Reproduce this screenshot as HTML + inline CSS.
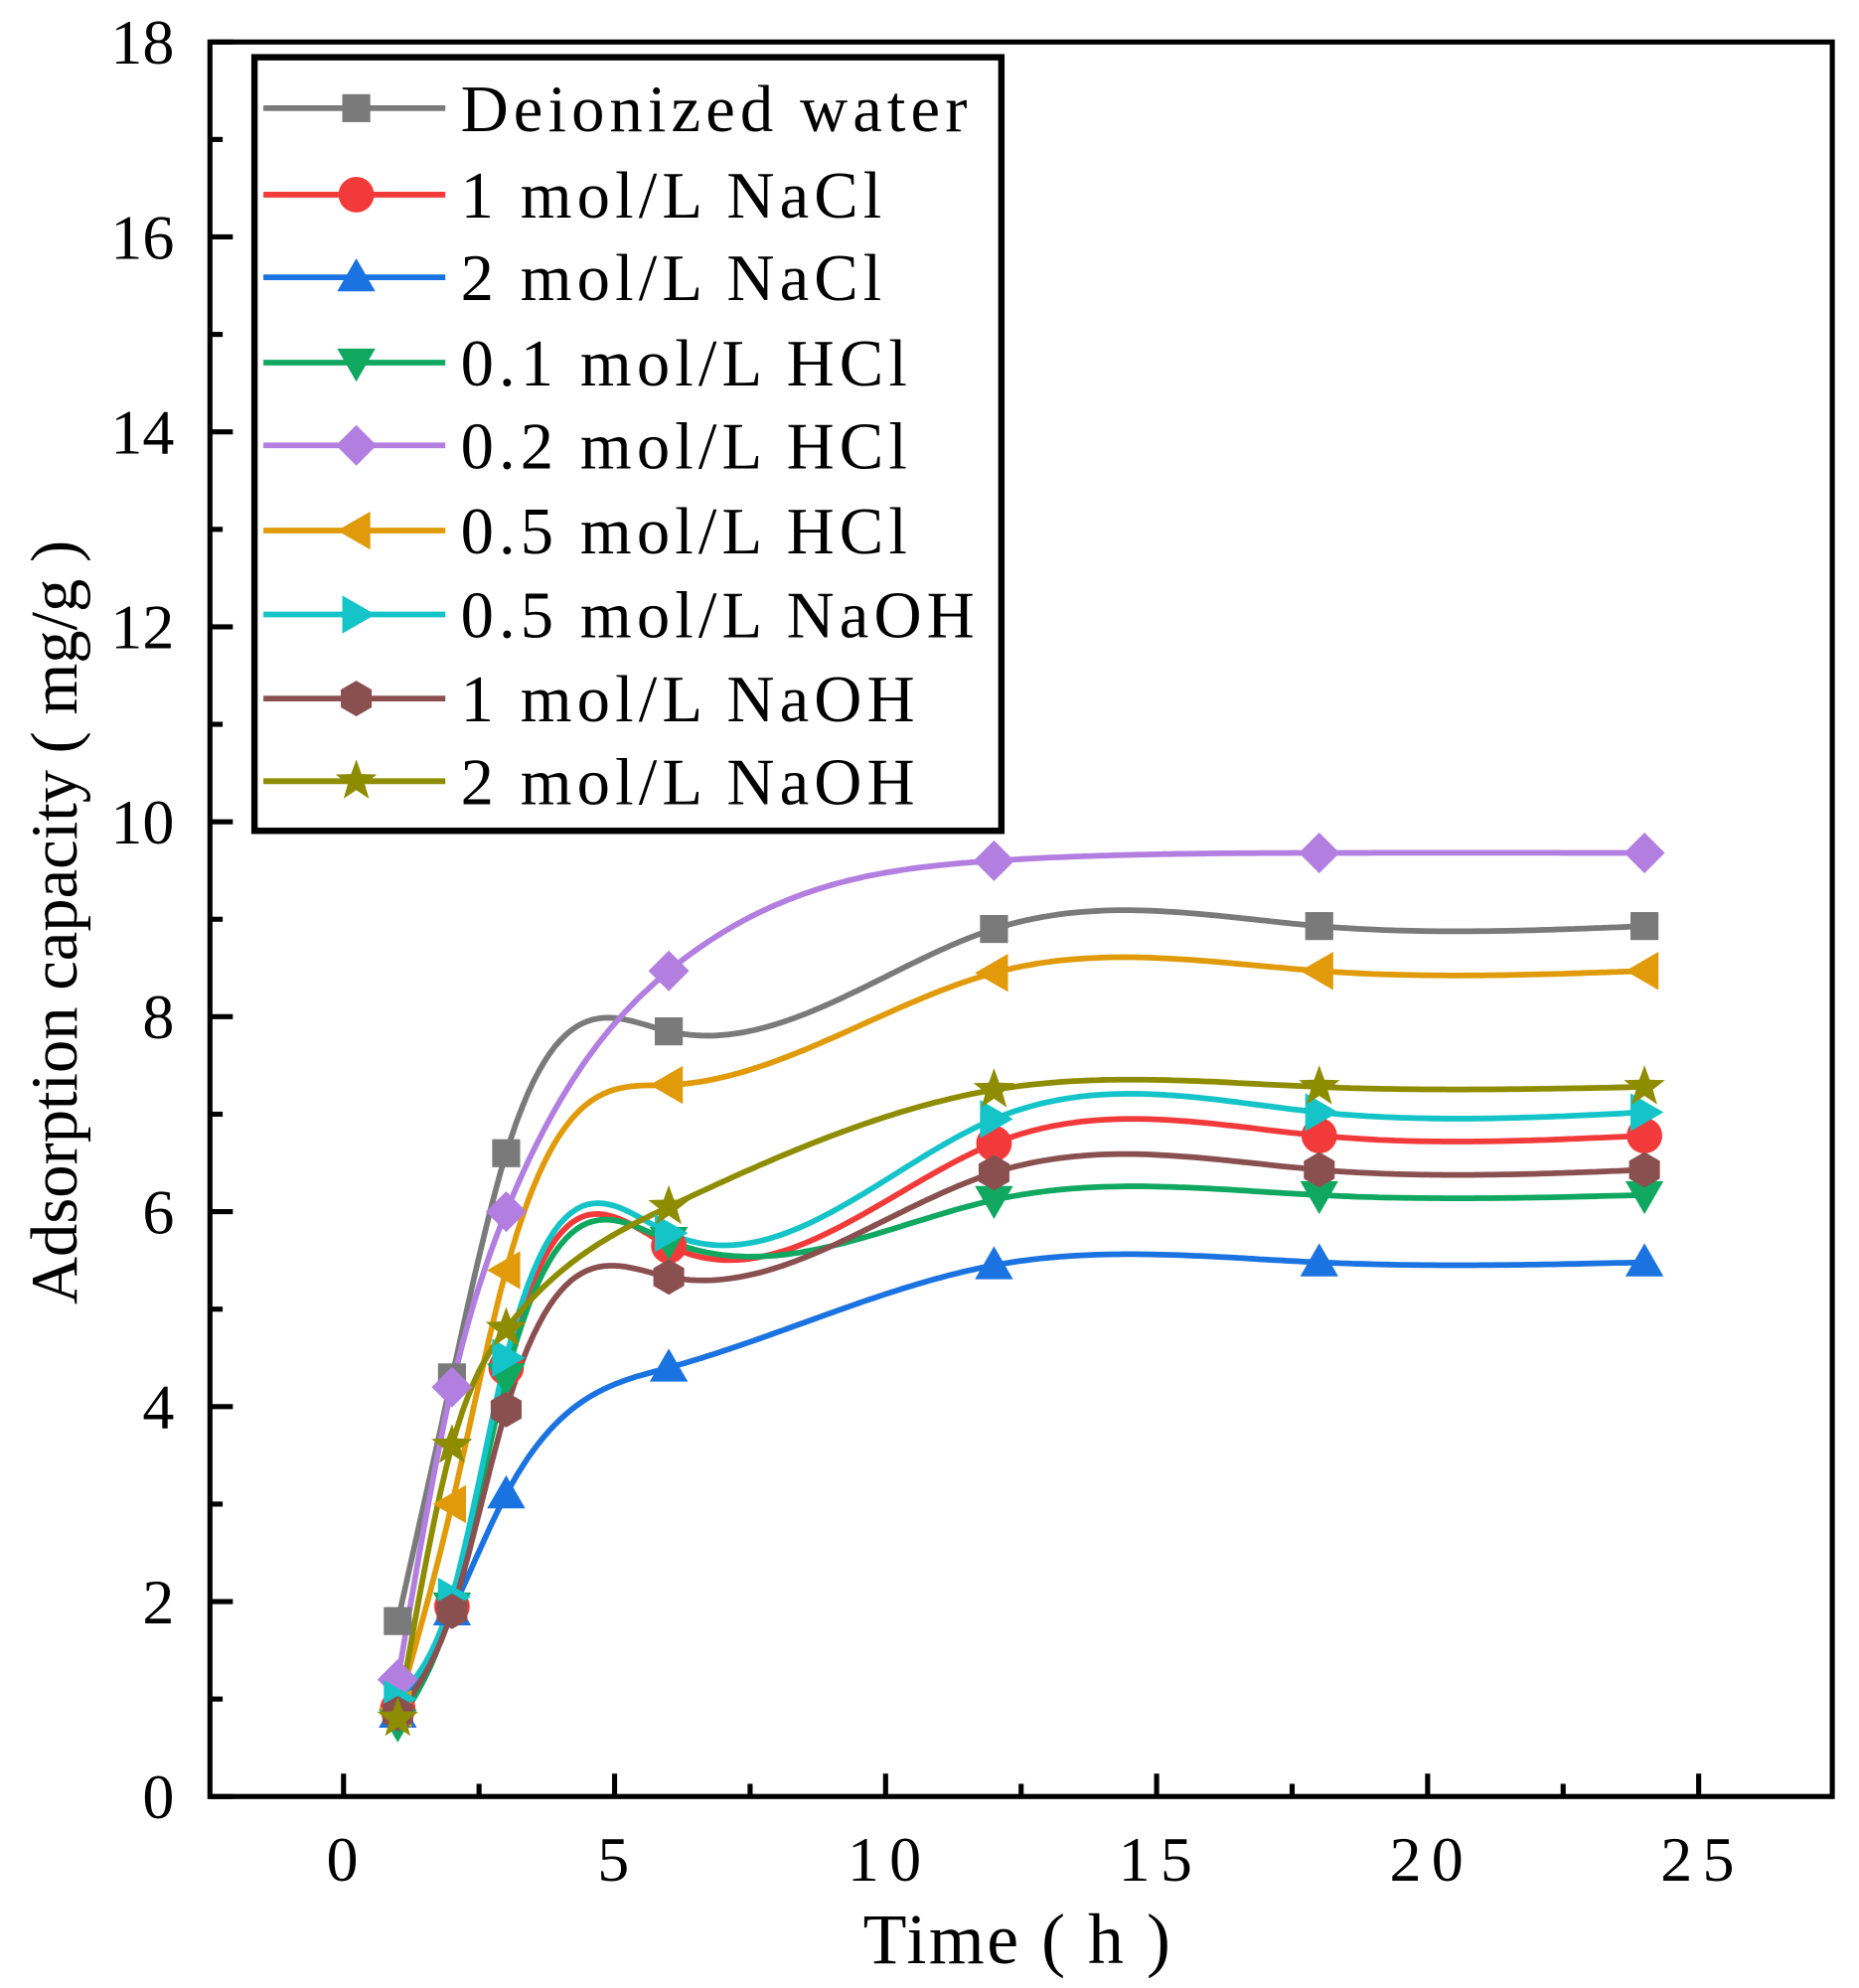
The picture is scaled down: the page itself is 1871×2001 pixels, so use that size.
<!DOCTYPE html>
<html><head><meta charset="utf-8"><style>html,body{margin:0;padding:0;background:#fff}svg{display:block}</style></head>
<body>
<svg id="s" xmlns="http://www.w3.org/2000/svg" width="1871" height="2001" viewBox="0 0 1461 1562.5" preserveAspectRatio="none" font-family="Liberation Serif, serif">
</svg>
<script>
const s=document.getElementById('s');
const L=165,R=1440,T=33,B=1412;
const X=v=>270+v*42.6, Y=v=>B-v*(B-T)/18;
let h='';
for(let v=0;v<=18;v++){const y=Y(v);const len=v%2==0?18:10;h+=`<line x1="${L}" y1="${y}" x2="${L+len}" y2="${y}" stroke="#000" stroke-width="4"/>`;
 if(v%2==0)h+=`<text x="${L-28}" y="${y+17}" font-size="50" text-anchor="end">${v}</text>`;}
for(let v=0;v<=27.5;v+=2.5){const x=X(v);if(x>R-5)break;const len=(v%5==0)?18:10;h+=`<line x1="${x}" y1="${B}" x2="${x}" y2="${B-len}" stroke="#000" stroke-width="4"/>`;
 if(v%5==0)h+=`<text x="${x+3}" y="${B+66}" font-size="50" text-anchor="middle" letter-spacing="8">${v}</text>`;}
h+=`<rect x="${L}" y="${T}" width="${R-L}" height="${B-T}" fill="none" stroke="#000" stroke-width="4"/>`;
h+=`<text x="800" y="1543" font-size="56" text-anchor="middle" letter-spacing="2">Time ( h )</text>`;
h+=`<text transform="translate(60,725) rotate(-90)" font-size="52" text-anchor="middle">Adsorption capacity ( mg/g )</text>`;
const xs=[1,2,3,6,12,18,24];
const S=[
['Deionized water','#7a7a7a','sq',[1.8,4.3,6.6,7.85,8.9,8.93,8.93]],
['1 mol/L NaCl','#f23a3a','ci',[0.9,1.95,4.4,5.65,6.7,6.78,6.78]],
['2 mol/L NaCl','#1a73e0','tu',[0.85,1.9,3.1,4.4,5.45,5.48,5.48]],
['0.1 mol/L HCl','#10a860','td',[0.75,1.95,4.3,5.7,6.12,6.17,6.17]],
['0.2 mol/L HCl','#b27ee0','di',[1.2,4.2,6.0,8.47,9.6,9.68,9.68]],
['0.5 mol/L HCl','#e09a0a','tl',[0.9,3.0,5.4,7.3,8.45,8.47,8.47]],
['0.5 mol/L NaOH','#14c4c8','tr',[1.0,2.05,4.5,5.78,6.95,7.02,7.02]],
['1 mol/L NaOH','#8a5050','hx',[0.85,1.9,3.97,5.33,6.4,6.43,6.43]],
['2 mol/L NaOH','#8e8c00','st',[0.8,3.6,4.8,6.05,7.25,7.28,7.28]]];
function mk(t,x,y,c){const r=14;
 switch(t){
 case 'sq':return `<rect x="${x-11}" y="${y-11}" width="22" height="22" fill="${c}"/>`;
 case 'ci':return `<circle cx="${x}" cy="${y}" r="${r}" fill="${c}"/>`;
 case 'tu':return `<polygon points="${x},${y-15} ${x+15},${y+11} ${x-15},${y+11}" fill="${c}"/>`;
 case 'td':return `<polygon points="${x},${y+15} ${x+15},${y-11} ${x-15},${y-11}" fill="${c}"/>`;
 case 'di':return `<polygon points="${x},${y-16} ${x+16},${y} ${x},${y+16} ${x-16},${y}" fill="${c}"/>`;
 case 'tl':return `<polygon points="${x-15},${y} ${x+11},${y-15} ${x+11},${y+15}" fill="${c}"/>`;
 case 'tr':return `<polygon points="${x+15},${y} ${x-11},${y-15} ${x-11},${y+15}" fill="${c}"/>`;
 case 'hx':{let p=[];for(let i=0;i<6;i++){const a=Math.PI/3*i+Math.PI/6;p.push((x+r*Math.cos(a))+','+(y+r*Math.sin(a)));}return `<polygon points="${p.join(' ')}" fill="${c}"/>`;}
 case 'st':{let p=[];for(let i=0;i<10;i++){const a=-Math.PI/2+Math.PI/5*i;const rr=i%2?7:17;p.push((x+rr*Math.cos(a))+','+(y+rr*Math.sin(a)));}return `<polygon points="${p.join(' ')}" fill="${c}"/>`;}
 }}
function spline(x,y){const n=x.length;const hh=[],al=[0],l=[1],mu=[0],z=[0];
 for(let i=0;i<n-1;i++)hh.push(x[i+1]-x[i]);
 for(let i=1;i<n-1;i++)al.push(3/hh[i]*(y[i+1]-y[i])-3/hh[i-1]*(y[i]-y[i-1]));
 for(let i=1;i<n-1;i++){l[i]=2*(x[i+1]-x[i-1])-hh[i-1]*mu[i-1];mu[i]=hh[i]/l[i];z[i]=(al[i]-hh[i-1]*z[i-1])/l[i];}
 const c=new Array(n).fill(0),b=[],d=[];
 for(let j=n-2;j>=0;j--){c[j]=z[j]-mu[j]*c[j+1];b[j]=(y[j+1]-y[j])/hh[j]-hh[j]*(c[j+1]+2*c[j])/3;d[j]=(c[j+1]-c[j])/(3*hh[j]);}
 return t=>{let j=0;while(j<n-2&&t>x[j+1])j++;const dx=t-x[j];return y[j]+b[j]*dx+c[j]*dx*dx+d[j]*dx*dx*dx;};}
let lines='',marks='';
S.forEach(([n,c,t,d])=>{
 const f=spline(xs,d);let p='';
 for(let v=1;v<=24.0001;v+=0.1){p+=(p?' L':'M')+X(v).toFixed(1)+','+Y(f(v)).toFixed(1);}
 lines+=`<path d="${p}" fill="none" stroke="${c}" stroke-width="4.5" stroke-linejoin="round"/>`;
 xs.forEach((x,i)=>marks+=mk(t,X(x),Y(d[i]),c));
});
h+=lines+marks;
h+=`<rect x="200" y="45" width="587" height="608" fill="#fff" stroke="#000" stroke-width="5"/>`;
const ly=[85,153,218,285,350,417,483,549,614];
S.forEach(([n,c,t],i)=>{const y=ly[i];
 h+=`<line x1="207" y1="${y}" x2="350" y2="${y}" stroke="${c}" stroke-width="4.5"/>`+mk(t,280,y,c);
 h+=`<text x="362" y="${y+18}" font-size="52" letter-spacing="4">${n}</text>`;});
s.innerHTML=h;
</script>
</body></html>
